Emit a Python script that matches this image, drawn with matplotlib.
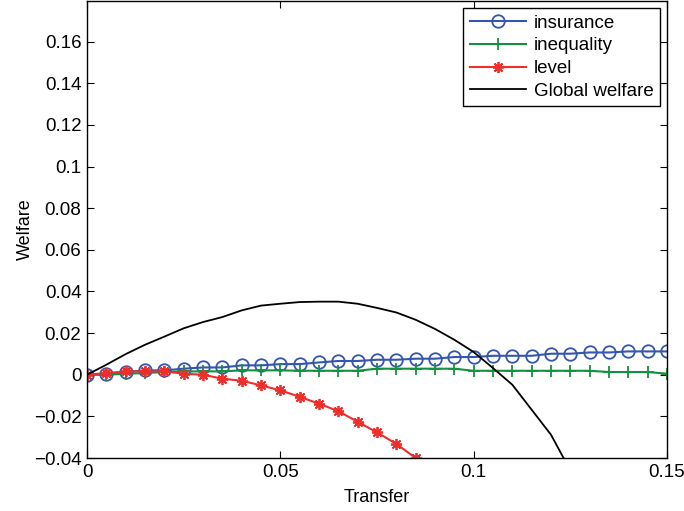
import numpy as np
import matplotlib
matplotlib.use("Agg")
import matplotlib.pyplot as plt

plt.rcParams['font.family'] = ['Liberation Sans', 'DejaVu Sans']

# transfer grid (every 0.005)
transfer = np.arange(31) * 0.005

insurance = [0, 0.0003, 0.0013, 0.0021, 0.0021, 0.0029, 0.0035, 0.0035, 0.0045, 0.0045,
             0.0051, 0.0051, 0.0059, 0.0066, 0.0066, 0.0072, 0.0072, 0.0077, 0.0077, 0.0085,
             0.0085, 0.0091, 0.0091, 0.0091, 0.0101, 0.0101, 0.0107, 0.0107, 0.0112, 0.0112,
             0.0112]
inequality = [0, 0, 0.0005, 0.0008, 0.0013, 0.0016, 0.0016, 0.0016, 0.0021, 0.0021,
              0.0021, 0.0019, 0.0019, 0.0019, 0.0019, 0.0029, 0.0029, 0.0029, 0.0029, 0.0029,
              0.0019, 0.0019, 0.0019, 0.0019, 0.0019, 0.0019, 0.0019, 0.0013, 0.0013, 0.0013,
              0.0005]
level_x = transfer[:18]
level = [0, 0.0008, 0.0016, 0.0016, 0.0016, 0.0005, 0, -0.0019, -0.0029, -0.0051,
         -0.0075, -0.0106, -0.0139, -0.0175, -0.0226, -0.0277, -0.0332, -0.0400]
glob_x = transfer[:26]
global_welfare = [0, 0.0048, 0.0099, 0.0144, 0.0183, 0.0223, 0.0253, 0.0277, 0.0309, 0.0332,
                  0.0341, 0.0349, 0.0351, 0.0351, 0.0341, 0.0321, 0.0299, 0.0264, 0.0220, 0.0168,
                  0.0109, 0.0032, -0.0048, -0.0168, -0.0288, -0.0460]

fig = plt.figure(figsize=(6.84, 5.11), dpi=100)
ax = fig.add_axes([0.1272, 0.1037, 0.8479, 0.8943])

ax.plot(transfer, insurance, color='#3556ae', lw=1.5, marker='o', ms=9,
        mfc='none', mew=1.3, label='insurance')
ax.plot(transfer, inequality, color='#12923e', lw=1.5, marker='+', ms=8,
        mew=1.3, label='inequality')
ax.plot(level_x, level, color='#ee2e2a', lw=1.5, marker=(8, 2, 0), ms=8,
        mew=1.3, label='level')
ax.plot(glob_x, global_welfare, color='k', lw=1.3, label='Global welfare')

ax.set_xlim(0, 0.15)
ax.set_ylim(-0.04, 0.1795)
ax.set_xticks([0, 0.05, 0.1, 0.15])
ax.set_xticklabels(['0', '0.05', '0.1', '0.15'])
ax.set_yticks(np.arange(-0.04, 0.161, 0.02))
ax.set_yticklabels(['\u22120.04', '\u22120.02', '0', '0.02', '0.04', '0.06', '0.08',
                    '0.1', '0.12', '0.14', '0.16'])
ax.tick_params(direction='in', top=True, right=True, labelsize=13.5, length=5, pad=4)
for s in ax.spines.values():
    s.set_linewidth(1.0)

ax.set_xlabel('Transfer', fontsize=13, labelpad=6)
ax.set_ylabel('Welfare', fontsize=13, labelpad=0)

leg = ax.legend(loc='upper right', bbox_to_anchor=(0.988, 0.985), fontsize=13.5,
                fancybox=False, edgecolor='k', framealpha=1, handlelength=3.0,
                borderpad=0.35, labelspacing=0.3, handletextpad=0.4, borderaxespad=0)
leg.get_frame().set_linewidth(1.0)

fig.savefig('out.png', dpi=100)
